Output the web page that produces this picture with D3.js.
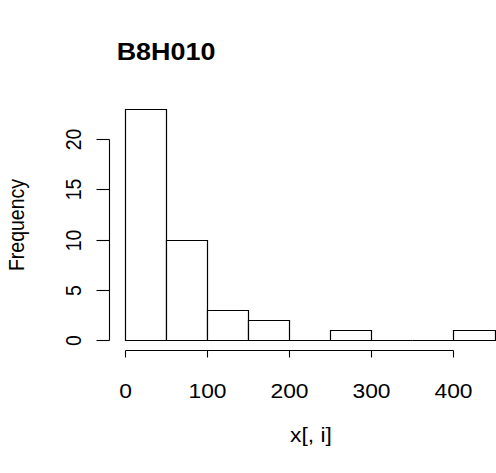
<!DOCTYPE html>
<html>
<head>
<meta charset="utf-8">
<script src="https://cdn.jsdelivr.net/npm/d3@7"></script>
<style>
  html, body { margin: 0; padding: 0; background: #fff; }
  svg { display: block; }
  text { font-family: "Liberation Sans", Arial, sans-serif; fill: #000; }
</style>
</head>
<body>
<svg id="chart" width="496" height="473"></svg>
<script>
// Histogram bins (breaks every 50) and their counts
const binStarts = [0, 50, 100, 150, 200, 250, 300, 350, 400];
const binWidth = 50;
const counts = [23, 10, 3, 2, 0, 1, 0, 0, 1];
const xTicks = [0, 100, 200, 300, 400];
const yTicks = [0, 5, 10, 15, 20];
const title = "B8H010";
const xLabel = "x[, i]";
const yLabel = "Frequency";

const svg = d3.select("#chart");
const stretch = 1.17; // horizontal widening of glyphs

const x = d3.scaleLinear().domain([0, 450]).range([125, 494.5]);
const y = d3.scaleLinear().domain([0, 20]).range([340, 139]);
const px = v => Math.round(v) + 0.5;

// Bars drawn as closed outlines so empty bins still show as a flat line
svg.append("g").selectAll("path")
  .data(binStarts.map((s, i) => ({ s, c: counts[i] })))
  .join("path")
  .attr("d", d => {
    const x0 = px(x(d.s)), x1 = px(x(d.s + binWidth));
    const y0 = px(y(0)), y1 = px(y(d.c));
    return `M${x0},${y0}V${y1}H${x1}V${y0}Z`;
  })
  .attr("fill", "#fff")
  .attr("stroke", "#000")
  .attr("stroke-width", 1.2);

// X axis
const xAxis = d3.axisBottom(x).tickValues(xTicks).tickSize(7).tickFormat("");
const gx = svg.append("g").attr("transform", "translate(0,350.5)").call(xAxis);
gx.select(".domain").attr("d", `M${px(x(0))},0H${px(x(400))}`);
gx.selectAll(".tick").attr("transform", d => `translate(${px(x(d))},0)`);
gx.selectAll("path, line").attr("stroke", "#000").attr("stroke-width", 1.1);
gx.selectAll(".tick").append("text")
  .attr("transform", "translate(0,47) scale(" + stretch + ",1)")
  .attr("text-anchor", "middle")
  .style("font-size", "19.5px")
  .text(d => d);

// Y axis
const yAxis = d3.axisLeft(y).tickValues(yTicks).tickSize(13).tickFormat("");
const gy = svg.append("g").attr("transform", "translate(109.5,0)").call(yAxis);
gy.select(".domain").attr("d", `M0,${px(y(0))}V${px(y(20))}`);
gy.selectAll(".tick").attr("transform", d => `translate(0,${px(y(d))})`);
gy.selectAll("path, line").attr("stroke", "#000").attr("stroke-width", 1.1);
gy.selectAll(".tick").append("text")
  .attr("transform", "translate(-29,0) scale(" + stretch + ",1) rotate(-90)")
  .attr("text-anchor", "middle")
  .style("font-size", "19.5px")
  .text(d => d);

// Title
svg.append("text")
  .attr("transform", "translate(166,60) scale(" + stretch + ",1)")
  .attr("text-anchor", "middle")
  .style("font-size", "23px")
  .style("font-weight", "bold")
  .text(title);

// Axis labels
svg.append("text")
  .attr("transform", "translate(311,442) scale(" + stretch + ",1)")
  .attr("text-anchor", "middle")
  .style("font-size", "19.5px")
  .text(xLabel);

svg.append("text")
  .attr("transform", "translate(24,225) scale(" + stretch + ",1) rotate(-90)")
  .attr("text-anchor", "middle")
  .style("font-size", "19.5px")
  .text(yLabel);
</script>
</body>
</html>
